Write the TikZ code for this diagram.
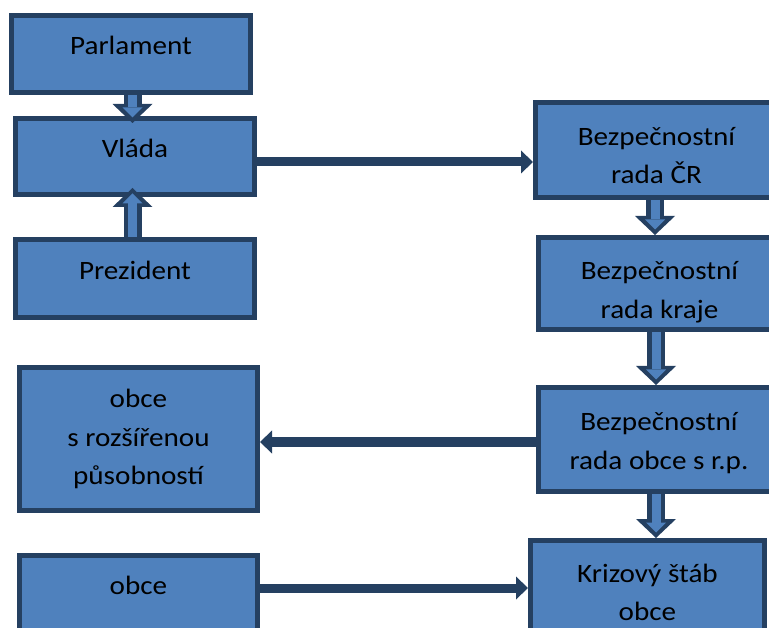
\documentclass[tikz,border=0pt]{standalone}
\usepackage{fontspec}
\setmainfont{Carlito}[FakeStretch=1.1]
\usetikzlibrary{arrows.meta, positioning}

\definecolor{boxblue}{HTML}{4F81BD}
\definecolor{navy}{HTML}{254061}

\tikzset{
  box/.style={draw=navy, fill=boxblue, line width=5pt, inner sep=0pt,
    minimum width=239pt, align=center,
    font=\fontsize{26.5}{38.5}\selectfont},
  toptext/.style={text height=20pt, text depth=18pt},
  link/.style={draw=navy, line width=9pt,
    -{Triangle[width=23pt, length=12pt, line width=0pt]}},
  blockarrow/.style={draw=navy, line width=18pt,
    -{Triangle[width=40pt, length=19pt, line width=0pt]},
    postaction={draw=boxblue, line width=9pt, shorten >=5.5pt,
      -{Triangle[width=20pt, length=10pt, line width=0pt]}}}
}

\begin{document}
\begin{tikzpicture}[x=1pt, y=-1pt]

  \useasboundingbox (0,0) rectangle (769,628);

  % left column
  \node[box, toptext, minimum height=77pt] (parl) at (131, 54) {Parlament};
  \node[box, toptext, minimum height=76pt] (vlada) at (135, 156.5) {Vláda};
  \node[box, toptext, minimum height=78pt] (prez) at (135, 278.5) {Prezident};
  \node[box, minimum width=238pt, minimum height=143pt] (orp) at (138.5, 439)
    {obce\\s rozšířenou\\působností};
  \node[box, toptext, minimum width=238pt, minimum height=75pt] (obce) at (138.5, 593) {obce};

  % right column
  \node[box, text height=68pt, minimum width=242pt, minimum height=95pt] (cr) at (656.5, 150)
    {Bezpečnostní\\rada ČR};
  \node[box, text height=74pt, minimum width=242pt, minimum height=92pt] (kraj) at (659.5, 283.5)
    {Bezpečnostní\\rada kraje};
  \node[box, text height=64pt, minimum width=241pt, minimum height=104pt] (ro) at (659, 439.5)
    {Bezpečnostní\\rada obce s r.p.};
  \node[box, minimum width=234pt, minimum height=104pt] (ks) at (647.5, 592.5)
    {Krizový štáb\\obce};

  % block arrows
  \draw[blockarrow] ([xshift=1.5pt]parl.south) -- ([xshift=-2.5pt, yshift=-7pt]vlada.north);
  \draw[blockarrow] ([xshift=-2.5pt]prez.north) -- ([xshift=-2.5pt, yshift=9pt]vlada.south);
  \draw[blockarrow] ([xshift=-1.5pt]cr.south) -- ([xshift=-4.5pt]kraj.north);
  \draw[blockarrow] ([xshift=-3.5pt]kraj.south) -- ([xshift=-3pt]ro.north);
  \draw[blockarrow] ([xshift=-3pt]ro.south) -- ([xshift=8.5pt]ks.north);

  % links
  \draw[link] ([yshift=-5.5pt]vlada.east) -- ([yshift=-5.5pt]vlada.east -| cr.west);
  \draw[link] ([yshift=-2.5pt]ro.west) -- ([yshift=-2.5pt]ro.west -| orp.east);
  \draw[link] ([yshift=5pt]obce.east) -- ([yshift=5pt]obce.east -| ks.west);

\end{tikzpicture}
\end{document}
